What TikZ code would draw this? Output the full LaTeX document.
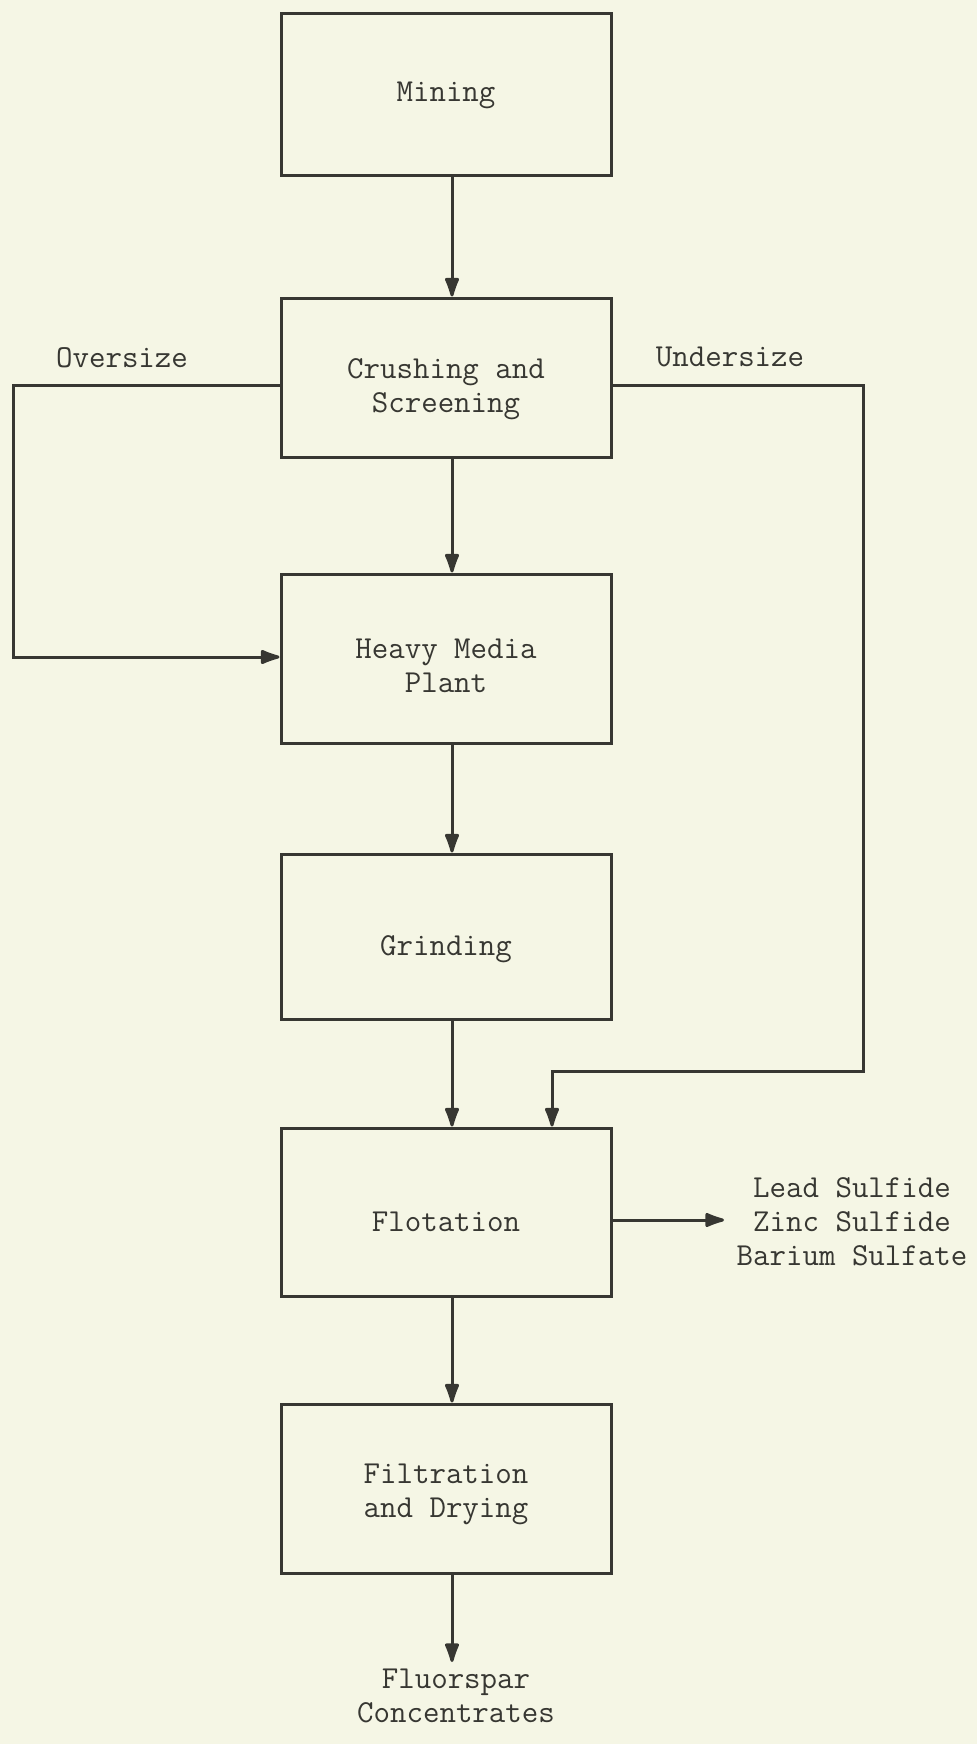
\documentclass[tikz,border=0pt]{standalone}
\usetikzlibrary{arrows.meta,calc}
\definecolor{paper}{RGB}{245,246,229}
\definecolor{ink}{RGB}{55,55,50}
\begin{document}
\begin{tikzpicture}[x=1pt,y=-1pt,
  every node/.style={font=\fontsize{32}{34}\selectfont\ttfamily, text=ink},
  procbox/.style={draw=ink, line width=3pt, minimum width=330pt, align=center, inner sep=0pt},
  flow/.style={draw=ink, line width=3pt, -{Latex[round,length=24pt,width=16pt]}},
  plain/.style={draw=ink, line width=3pt}]
\fill[paper] (0,0) rectangle (977,1744);
\useasboundingbox (0,0) rectangle (977,1744);
\node[procbox, minimum height=162pt] (mining) at (446,95) {Mining};
\node[procbox, minimum height=159pt] (crush) at (446,377.5) {};
\node[procbox, minimum height=169pt] (heavy) at (446,658.5) {};
\node[procbox, minimum height=165pt] (grind) at (446,936.5) {};
\node[procbox, minimum height=168pt] (flot) at (446,1212) {};
\node[procbox, minimum height=169pt] (filt) at (446,1488.5) {};
\node[align=center] (crusht) at ([yshift=-12pt]crush.center) {Crushing and\\Screening};
\node[align=center] (heavyt) at ([yshift=-7pt]heavy.center) {Heavy Media\\Plant};
\node (grindt) at ([yshift=-13pt]grind.center) {Grinding};
\node (flott) at ([yshift=-10pt]flot.center) {Flotation};
\node[align=center] (filtt) at ([yshift=-6pt]filt.center) {Filtration\\and Drying};
\node (over) at (122,358) {Oversize};
\node (under) at (730,357) {Undersize};
\node[align=center] (byprod) at (852,1222) {Lead Sulfide\\Zinc Sulfide\\Barium Sulfate};
\node[align=center] (fluor) at (456,1696) {Fluorspar\\Concentrates};
\coordinate (ol) at (13,385);
\coordinate (ob) at (13,657);
\coordinate (ur) at (863,385);
\coordinate (ub) at (863,1071);
\coordinate (uf) at (552,1071);
\coordinate (fend) at (452,1662);
\coordinate (bend) at (724,1220);
\draw[flow] ([xshift=6pt]mining.south) -- ([xshift=6pt]crush.north);
\draw[flow] ([xshift=6pt]crush.south) -- ([xshift=6pt]heavy.north);
\draw[flow] ([xshift=6pt]heavy.south) -- ([xshift=6pt]grind.north);
\draw[flow] ([xshift=6pt]grind.south) -- ([xshift=6pt]flot.north);
\draw[flow] ([xshift=6pt]flot.south) -- ([xshift=6pt]filt.north);
\draw[flow] ([xshift=6pt]filt.south) -- (fend);
\draw[flow] (crush.west |- ol) -- (ol) -- (ob) -- (heavy.west |- ob);
\draw[flow] (crush.east |- ur) -- (ur) -- (ub) -- (uf) -- (uf |- flot.north);
\draw[flow] (flot.east |- bend) -- (bend);
\end{tikzpicture}
\end{document}
